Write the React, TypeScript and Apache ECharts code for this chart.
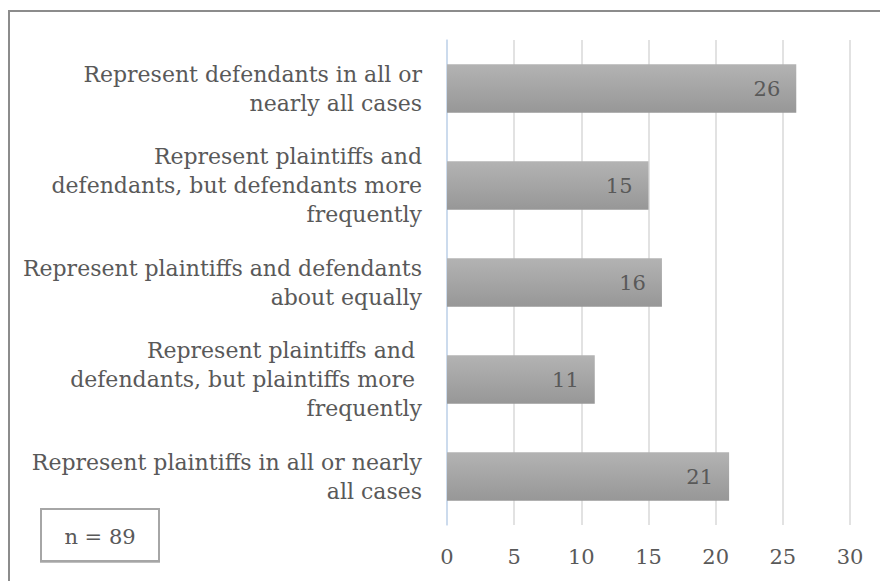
import React, { useEffect, useRef } from "react";
import * as echarts from "echarts";

const categories: string[] = [
  "Represent defendants in all or\nnearly all cases",
  "Represent plaintiffs and\ndefendants, but defendants more\nfrequently",
  "Represent plaintiffs and defendants\nabout equally",
  "Represent plaintiffs and \ndefendants, but plaintiffs more \nfrequently",
  "Represent plaintiffs in all or nearly\nall cases",
];
const counts: number[] = [26, 15, 16, 11, 21];
const xTicks = { min: 0, max: 30, interval: 5 };
const sampleNote = "n = 89";

const FONT = "'DejaVu Serif', 'Liberation Serif', serif";
const TEXT = "#595959";
const FS = 21;

export default function App() {
  const ref = useRef<HTMLDivElement>(null);

  useEffect(() => {
    if (!ref.current) return;
    const chart = echarts.init(ref.current, undefined, { renderer: "svg" });
    chart.setOption({
      animation: false,
      backgroundColor: "#ffffff",
      textStyle: { fontFamily: FONT },
      grid: { left: 447, right: 30, top: 40, bottom: 56, containLabel: false },
      xAxis: {
        type: "value",
        min: xTicks.min,
        max: xTicks.max,
        interval: xTicks.interval,
        axisLine: { show: false },
        axisTick: { show: false },
        axisLabel: { color: TEXT, fontSize: FS, fontFamily: FONT, margin: 21 },
        splitLine: { show: true, lineStyle: { color: "#d9d9d9", width: 1.5 } },
      },
      yAxis: {
        type: "category",
        data: categories,
        inverse: true,
        axisLine: { show: true, lineStyle: { color: "#c5d8f0", width: 1.5 } },
        axisTick: { show: false },
        axisLabel: {
          color: TEXT,
          fontSize: 22,
          fontFamily: FONT,
          lineHeight: 29,
          align: "right",
          margin: 25,
        },
      },
      series: [
        {
          type: "bar",
          data: counts,
          barWidth: "50%",
          itemStyle: {
            color: new echarts.graphic.LinearGradient(0, 0, 0, 1, [
              { offset: 0, color: "#b3b3b3" },
              { offset: 1, color: "#979797" },
            ]),
          },
          label: {
            show: true,
            position: "insideRight",
            distance: 16,
            color: TEXT,
            fontSize: FS,
            fontFamily: FONT,
          },
        },
      ],
      graphic: [
        {
          type: "rect",
          shape: { x: 9, y: 11, width: 900, height: 620 },
          style: { fill: "none", stroke: "#8c8c8c", lineWidth: 2 },
          silent: true,
        },
        {
          type: "rect",
          shape: { x: 41, y: 509, width: 118, height: 52 },
          style: {
            fill: "#ffffff",
            stroke: "#a6a6a6",
            lineWidth: 2,
            shadowColor: "rgba(0,0,0,0.25)",
            shadowOffsetX: 0,
            shadowOffsetY: 1,
            shadowBlur: 1,
          },
          silent: true,
        },
        {
          type: "text",
          x: 100,
          y: 537,
          style: {
            text: sampleNote,
            fill: TEXT,
            font: `${FS}px ${FONT}`,
            align: "center",
            verticalAlign: "middle",
          },
          silent: true,
        },
      ],
    });
    return () => chart.dispose();
  }, []);

  return (
    <div
      ref={ref}
      style={{ position: "fixed", left: 0, top: 0, width: 880, height: 581 }}
    />
  );
}
